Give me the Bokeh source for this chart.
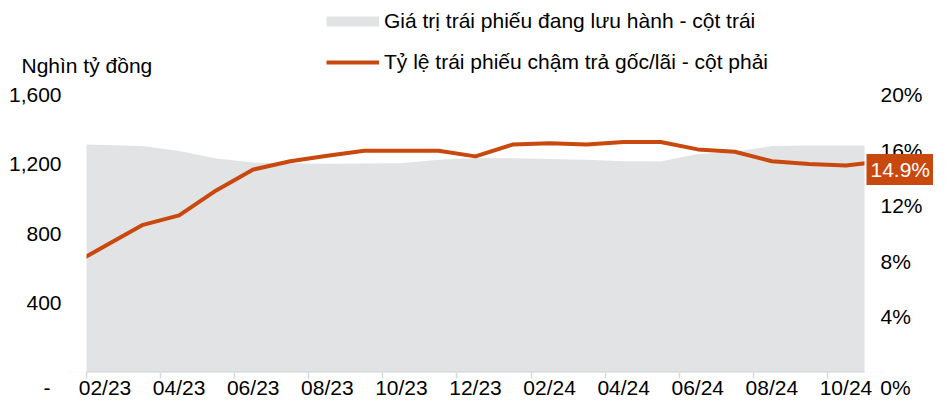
from bokeh.plotting import figure
from bokeh.models import (Range1d, LinearAxis, FixedTicker, ColumnDataSource,
                          Legend, LegendItem, Label)
from bokeh.core.properties import value
from bokeh.embed import file_html
from bokeh.resources import INLINE

# ---------------- data ----------------
months = ["01/23", "02/23", "03/23", "04/23", "05/23", "06/23", "07/23", "08/23",
          "09/23", "10/23", "11/23", "12/23", "01/24", "02/24", "03/24", "04/24",
          "05/24", "06/24", "07/24", "08/24", "09/24", "10/24", "11/24"]
# Outstanding bond value (thousand billion VND) - left axis
outstanding = [1315, 1310, 1303, 1275, 1232, 1208, 1205, 1202, 1203, 1205, 1224, 1235,
               1233, 1229, 1224, 1216, 1215, 1257, 1270, 1303, 1306, 1306, 1305]
# Late payment ratio (%) - right axis
late_ratio = [7.6, 9.1, 10.6, 11.3, 13.1, 14.6, 15.2, 15.6, 15.95, 15.95, 15.95, 15.55,
              16.4, 16.5, 16.4, 16.58, 16.58, 16.05, 15.88, 15.2, 15.0, 14.9, 15.2]
tick_labels = ["02/23", "04/23", "06/23", "08/23", "10/23", "12/23",
               "02/24", "04/24", "06/24", "08/24", "10/24"]
left_ticks = [0, 400, 800, 1200, 1600]
right_ticks = [0, 4, 8, 12, 16, 20]
legend_area = "Giá trị trái phiếu đang lưu hành - cột trái"
legend_line = "Tỷ lệ trái phiếu chậm trả gốc/lãi - cột phải"
unit_title = "Nghìn tỷ đồng"
first_month = "02/23"
last_month = "10/24"

# ---------------- style / layout (pixels) ----------------
FONT = "Liberation Sans"
FS = "21px"
GRAY = "#e2e3e5"
ORANGE = "#c9480e"
AXIS_GRAY = "#d9d9d9"

W, H = 933, 402
BOTTOM = 30                 # bottom axis panel
FRAME_H = H - BOTTOM        # frame covers everything above the x axis
PLOT_L, PLOT_R = 86, 864    # x of the plotted month slots
PLOT_TOP = 94               # y of 1,600 / 20%
PLOT_H = FRAME_H - PLOT_TOP
LEFT_GAP, RIGHT_GAP = 25, 16

first_shown = months.index(first_month)
n_slots = months.index(last_month) - first_shown + 1
xs = [i - first_shown for i in range(len(months))]
px = (PLOT_R - PLOT_L) / n_slots
x0, x1 = -0.5, n_slots - 0.5
x_start = x0 - PLOT_L / px
x_end = x1 + (W - PLOT_R) / px
left_max, right_max = left_ticks[-1], right_ticks[-1]
ytop = left_max * FRAME_H / PLOT_H

src = ColumnDataSource(dict(x=xs, v=outstanding, r=late_ratio))

p = figure(width=W, height=H,
           x_range=Range1d(x_start, x_end), y_range=Range1d(0, ytop),
           output_backend="svg", toolbar_location=None,
           x_axis_location=None, y_axis_location=None,
           min_border=0, min_border_left=0, min_border_right=0, min_border_top=0,
           min_border_bottom=BOTTOM)
p.outline_line_color = None
p.background_fill_color = "white"
p.border_fill_color = "white"
p.grid.visible = False
p.extra_y_ranges = {"pct": Range1d(0, right_max * FRAME_H / PLOT_H)}

area = p.varea(x="x", y1=0, y2="v", source=src, fill_color=GRAY)
line = p.line(x="x", y="r", source=src, y_range_name="pct",
              line_color=ORANGE, line_width=4, line_join="round")
# one-point line: draws nothing in the plot, only serves as the legend swatch of the area
area_swatch = p.line(x=xs[:1], y=outstanding[:1], line_color=GRAY, line_width=10,
                     line_cap="butt")

# white masks: only the month slots first_month..last_month are shown
p.quad(left=[x_start, x1], right=[x0, x_end], bottom=[0, 0], top=[ytop, ytop],
       fill_color="white", line_color=None)
# category axis line (its lower half falls outside the frame)
p.segment(x0=[x0], y0=[0], x1=[x1], y1=[0], line_color=AXIS_GRAY, line_width=3)

# bottom axis: month labels centred on slots, tick marks at slot boundaries,
# plus the zero labels of the two value scales on the same row
label_pos = [months.index(t) - first_shown for t in tick_labels]
zero_left_x = x0 - (LEFT_GAP + 14.5) / px
zero_right_x = x1 + (RIGHT_GAP + 15) / px
overrides = {v: t for v, t in zip(label_pos, tick_labels)}
overrides[zero_left_x] = "-"
overrides[zero_right_x] = f"{right_ticks[0]}%"
xaxis = LinearAxis(ticker=FixedTicker(ticks=[zero_left_x] + label_pos + [zero_right_x],
                                      minor_ticks=[v - 0.5 for v in label_pos]),
                   major_label_overrides=overrides,
                   axis_line_color=None,
                   major_tick_line_color=None, major_tick_out=0, major_tick_in=0,
                   minor_tick_line_color=AXIS_GRAY, minor_tick_out=6, minor_tick_in=0,
                   minor_tick_line_width=1.5,
                   major_label_standoff=-3,
                   major_label_text_font=FONT, major_label_text_font_size=FS,
                   major_label_text_color="black")
p.add_layout(xaxis, "below")

# value-axis labels (drawn through the two y scales)
left_txt = [f"{v:,}" for v in left_ticks[1:]]
right_txt = [f"{v}%" for v in right_ticks[1:]]
p.text(x=[x0] * len(left_txt), y=left_ticks[1:], text=left_txt, x_offset=-LEFT_GAP,
       text_align="right", text_baseline="middle",
       text_font=value(FONT), text_font_size=value(FS), text_color="black")
p.text(x=[x1] * len(right_txt), y=right_ticks[1:], text=right_txt, x_offset=RIGHT_GAP,
       y_range_name="pct", text_align="left", text_baseline="middle",
       text_font=value(FONT), text_font_size=value(FS), text_color="black")

# legends (two single-item legends, one per row)
common = dict(orientation="vertical", glyph_width=53, glyph_height=24, label_height=24,
              label_standoff=5, padding=0, margin=0, spacing=0,
              border_line_color=None, background_fill_alpha=0,
              label_text_font=FONT, label_text_font_size=FS, label_text_color="black")
leg1 = Legend(items=[LegendItem(label=legend_area, renderers=[area_swatch])],
              location=(326, FRAME_H - 33), **common)
leg2 = Legend(items=[LegendItem(label=legend_line, renderers=[line])],
              location=(326, FRAME_H - 74), **common)
p.add_layout(leg1, "center")
p.add_layout(leg2, "center")

# unit title
p.add_layout(Label(x=x0, y=left_max, x_offset=21 - PLOT_L, y_offset=29, text=unit_title,
                   text_font=FONT, text_font_size=FS, text_color="black",
                   text_align="left", text_baseline="alphabetic"))

# last value badge
last_val = late_ratio[months.index(last_month)]
p.add_layout(Label(x=x1, y=last_val, y_range_name="pct",
                   x_offset=2, y_offset=-4, text=f"{last_val:.1f}%",
                   text_font=FONT, text_font_size=FS, text_color="white",
                   text_align="left", text_baseline="middle",
                   background_fill_color=ORANGE, padding=4))

open("out.html", "w").write(file_html(p, INLINE))
